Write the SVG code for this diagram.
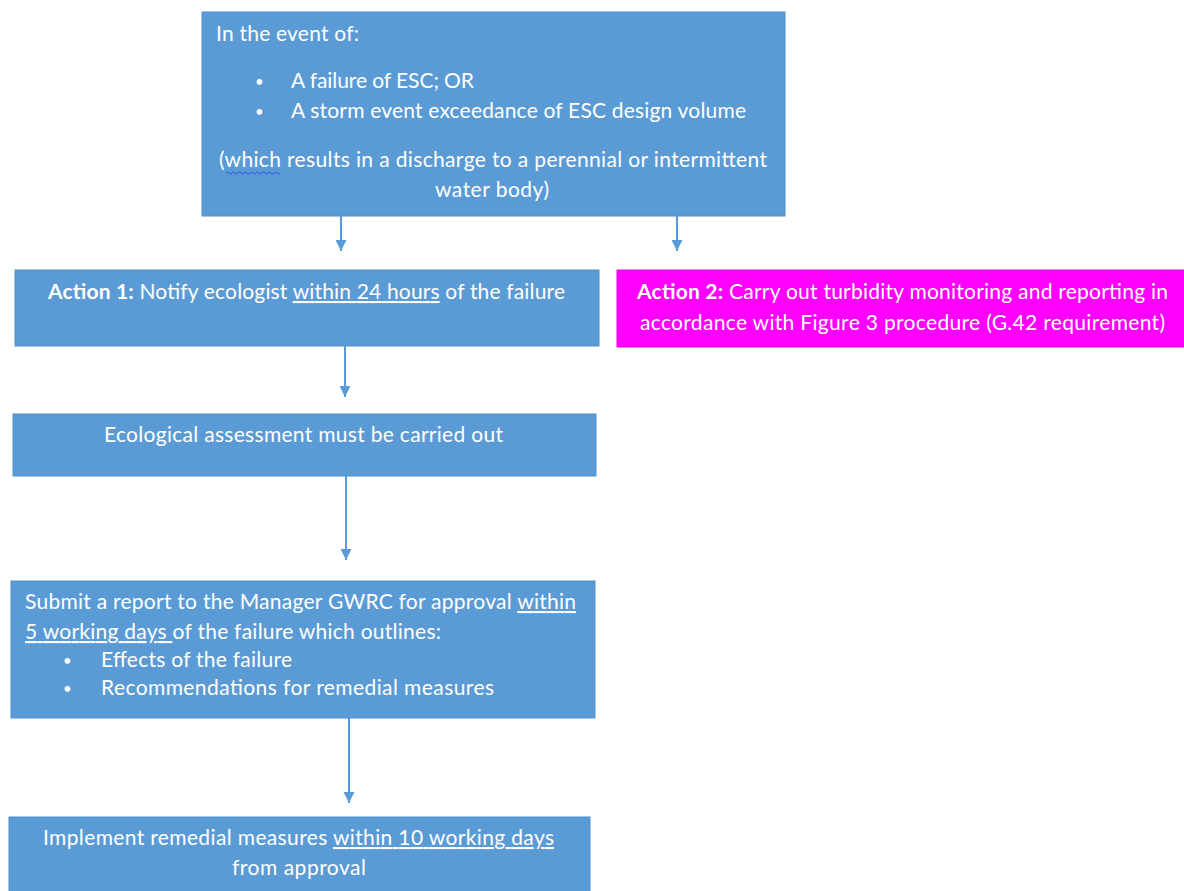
<svg xmlns="http://www.w3.org/2000/svg" width="1184" height="891" viewBox="0 0 1184 891">
<style>
.box{fill:#5B9BD5;stroke:#4F8FCB;stroke-width:1}
.mag{fill:#FF00FF;stroke:#F000F0;stroke-width:1}
text{font-family:Lato,"Open Sans","Liberation Sans",sans-serif;font-size:21px;fill:#FFFFFF}
.bul{font-size:15px}
.b{font-weight:bold}
.u{text-decoration:underline}
.conn{stroke:#5B9BD5;stroke-width:2;fill:none}
</style>
<defs>
<marker id="ah" viewBox="0 0 10 10" refX="10" refY="5" markerWidth="5.5" markerHeight="5.5" orient="auto" markerUnits="strokeWidth">
<path d="M0,0 L10,5 L0,10 Z" fill="#5B9BD5"/>
</marker>
</defs>
<g id="connectors">
<line class="conn" x1="341" y1="216" x2="341" y2="251" marker-end="url(#ah)"/>
<line class="conn" x1="677" y1="216" x2="677" y2="251" marker-end="url(#ah)"/>
<line class="conn" x1="345" y1="346" x2="345" y2="397" marker-end="url(#ah)"/>
<line class="conn" x1="346" y1="476" x2="346" y2="560" marker-end="url(#ah)"/>
<line class="conn" x1="349" y1="718" x2="349" y2="803" marker-end="url(#ah)"/>
</g>
<g id="event">
<rect class="box" x="202" y="12" width="583" height="204"/>
<text x="216" y="41" textLength="143">In the event of:</text>
<text class="bul" x="255" y="87">•</text>
<text x="291" y="88" textLength="183">A failure of ESC; OR</text>
<text class="bul" x="255" y="117">•</text>
<text x="291" y="118" textLength="455">A storm event exceedance of ESC design volume</text>
<text x="219" y="167" textLength="548">(which results in a discharge to a perennial or intermittent</text>
<path d="M226,173 q1.5,-2 3,0 t3,0 t3,0 t3,0 t3,0 t3,0 t3,0 t3,0 t3,0 t3,0 t3,0 t3,0 t3,0 t3,0 t3,0 t3,0 t3,0 t3,0" stroke="#3355DD" stroke-width="1" fill="none"/>
<text x="435" y="197" textLength="114">water body)</text>
</g>
<g id="action1">
<rect class="box" x="15" y="270" width="584" height="76"/>
<text x="48" y="299" textLength="517"><tspan class="b">Action 1:</tspan> Notify ecologist <tspan class="u">within 24 hours</tspan> of the failure</text>
</g>
<g id="action2">
<rect class="mag" x="617" y="270" width="567" height="77"/>
<text x="637" y="299" textLength="531"><tspan class="b">Action 2:</tspan> Carry out turbidity monitoring and reporting in</text>
<text x="640" y="330" textLength="525">accordance with Figure 3 procedure (G.42 requirement)</text>
</g>
<g id="assessment">
<rect class="box" x="13" y="414" width="583" height="62"/>
<text x="104" y="442" textLength="399">Ecological assessment must be carried out</text>
</g>
<g id="report">
<rect class="box" x="11" y="581" width="584" height="137"/>
<text x="25" y="609" textLength="551">Submit a report to the Manager GWRC for approval <tspan class="u">within</tspan></text>
<text x="25" y="639" textLength="416"><tspan class="u">5 working days </tspan>of the failure which outlines:</text>
<text class="bul" x="63" y="666">•</text>
<text x="101" y="667" textLength="191">Effects of the failure</text>
<text class="bul" x="63" y="694">•</text>
<text x="101" y="695" textLength="393">Recommendations for remedial measures</text>
</g>
<g id="implement">
<rect class="box" x="9" y="817" width="581" height="80"/>
<text x="43" y="845" textLength="511">Implement remedial measures <tspan class="u">within 10 working days</tspan></text>
<text x="232" y="875" textLength="134">from approval</text>
</g>
</svg>
